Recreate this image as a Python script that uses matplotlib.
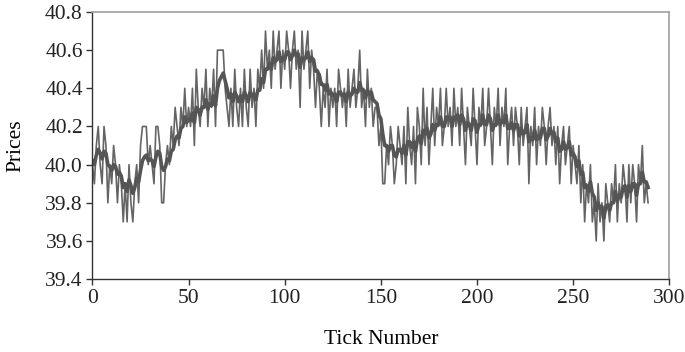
import numpy as np
import matplotlib
matplotlib.use("Agg")
import matplotlib.pyplot as plt

# =========================
# DATA
# =========================

raw_prices = [
    40.0, 39.9, 40.1, 40.2, 40.0, 39.9, 40.2, 40.1, 39.8, 40.0,
    39.9, 40.1, 40.0, 39.8, 40.0, 39.9, 39.7, 39.9, 39.7, 40.0,
    39.8, 39.7, 39.9, 40.0, 39.8, 40.1, 40.2, 40.2, 40.2, 40.0,
    40.1, 40.0, 39.9, 40.2, 40.2, 40.1, 39.8, 39.8, 40.0, 40.1,
    40.0, 40.2, 40.1, 40.3, 40.2, 40.1, 40.3, 40.2, 40.4, 40.2,
    40.3, 40.2, 40.4, 40.1, 40.5, 40.3, 40.2, 40.4, 40.3, 40.5,
    40.2, 40.4, 40.3, 40.5, 40.2, 40.6, 40.6, 40.6, 40.6, 40.4,
    40.3, 40.2, 40.4, 40.2, 40.5, 40.3, 40.2, 40.4, 40.2, 40.5,
    40.3, 40.2, 40.5, 40.3, 40.4, 40.2, 40.5, 40.4, 40.6, 40.4,
    40.7, 40.5, 40.6, 40.4, 40.7, 40.5, 40.6, 40.7, 40.4, 40.6,
    40.5, 40.7, 40.6, 40.4, 40.6, 40.7, 40.5, 40.6, 40.3, 40.7,
    40.5, 40.6, 40.7, 40.4, 40.6, 40.5, 40.3, 40.5, 40.4, 40.2,
    40.4, 40.3, 40.5, 40.2, 40.4, 40.3, 40.4, 40.2, 40.5, 40.4,
    40.3, 40.4, 40.2, 40.5, 40.3, 40.4, 40.5, 40.3, 40.4, 40.6,
    40.3, 40.4, 40.2, 40.5, 40.3, 40.4, 40.2, 40.3, 40.3, 40.1,
    40.2, 39.9, 39.9, 40.1, 40.0, 40.2, 40.1, 39.9, 40.0, 40.2,
    40.1, 40.0, 40.2, 39.9, 40.3, 40.1, 40.0, 40.2, 39.9, 40.3,
    40.2, 40.0, 40.4, 40.1, 40.3, 40.0, 40.2, 40.4, 40.1, 40.3,
    40.2, 40.4, 40.1, 40.2, 40.4, 40.2, 40.3, 40.1, 40.4, 40.2,
    40.3, 40.1, 40.4, 40.2, 40.0, 40.3, 40.2, 40.1, 40.4, 40.2,
    40.0, 40.3, 40.2, 40.4, 40.1, 40.2, 40.4, 40.2, 40.0, 40.3,
    40.2, 40.4, 40.1, 40.3, 40.2, 40.4, 40.0, 40.2, 40.3, 40.1,
    40.3, 40.2, 40.0, 40.3, 40.1, 40.2, 40.3, 39.9, 40.2, 40.1,
    40.3, 40.0, 40.2, 40.1, 40.3, 40.2, 40.0, 40.2, 40.3, 40.1,
    40.2, 40.0, 40.2, 39.9, 40.1, 40.2, 40.0, 40.1, 40.2, 39.9,
    40.1, 40.0, 39.9, 40.1, 39.8, 40.0, 39.7, 39.9, 39.8, 40.0,
    39.7, 39.8, 39.6, 39.9, 39.7, 39.8, 39.6, 39.9, 39.8, 39.7,
    39.9, 39.8, 40.0, 39.7, 39.9, 39.8, 40.0, 39.9, 39.7, 40.0,
    39.8, 40.0, 39.9, 39.7, 40.0, 39.9, 40.1, 39.8, 39.9, 39.8,
]

smoothed_prices = [
    40.02, 40.00, 40.05, 40.08, 40.06, 40.03, 40.07, 40.06, 40.00, 39.99,
    39.97, 40.00, 39.99, 39.95, 39.96, 39.94, 39.88, 39.90, 39.86, 39.92,
    39.89, 39.85, 39.88, 39.93, 39.91, 39.97, 40.02, 40.04, 40.05, 40.02,
    40.03, 40.02, 39.99, 40.04, 40.07, 40.06, 39.99, 39.97, 39.99, 40.03,
    40.02, 40.07, 40.08, 40.13, 40.15, 40.14, 40.19, 40.20, 40.25, 40.22,
    40.24, 40.23, 40.27, 40.22, 40.30, 40.29, 40.26, 40.30, 40.30, 40.34,
    40.29, 40.32, 40.31, 40.36, 40.31, 40.40, 40.44, 40.46, 40.48, 40.44,
    40.40, 40.35, 40.37, 40.33, 40.38, 40.36, 40.33, 40.36, 40.33, 40.38,
    40.36, 40.33, 40.38, 40.36, 40.37, 40.34, 40.39, 40.39, 40.45, 40.43,
    40.50, 40.50, 40.53, 40.50, 40.56, 40.54, 40.55, 40.59, 40.54, 40.56,
    40.55, 40.59, 40.59, 40.55, 40.57, 40.60, 40.57, 40.58, 40.51, 40.56,
    40.55, 40.56, 40.59, 40.54, 40.56, 40.55, 40.49, 40.49, 40.47, 40.42,
    40.42, 40.39, 40.42, 40.37, 40.38, 40.36, 40.37, 40.33, 40.38, 40.38,
    40.36, 40.37, 40.33, 40.38, 40.36, 40.37, 40.40, 40.38, 40.38, 40.43,
    40.39, 40.39, 40.35, 40.39, 40.37, 40.38, 40.34, 40.33, 40.32, 40.26,
    40.24, 40.16, 40.10, 40.10, 40.07, 40.10, 40.10, 40.05, 40.04, 40.08,
    40.08, 40.06, 40.10, 40.05, 40.12, 40.12, 40.09, 40.12, 40.07, 40.13,
    40.15, 40.11, 40.18, 40.16, 40.19, 40.14, 40.16, 40.21, 40.18, 40.21,
    40.21, 40.25, 40.20, 40.20, 40.25, 40.24, 40.25, 40.20, 40.25, 40.24,
    40.26, 40.21, 40.26, 40.24, 40.18, 40.22, 40.21, 40.18, 40.24, 40.23,
    40.17, 40.21, 40.21, 40.26, 40.21, 40.21, 40.26, 40.24, 40.18, 40.21,
    40.21, 40.26, 40.21, 40.23, 40.22, 40.26, 40.19, 40.19, 40.22, 40.18,
    40.21, 40.21, 40.15, 40.19, 40.16, 40.17, 40.21, 40.12, 40.14, 40.13,
    40.18, 40.13, 40.15, 40.14, 40.19, 40.19, 40.13, 40.15, 40.19, 40.16,
    40.17, 40.12, 40.14, 40.07, 40.08, 40.12, 40.08, 40.09, 40.12, 40.05,
    40.06, 40.04, 39.99, 40.02, 39.95, 39.96, 39.88, 39.89, 39.86, 39.91,
    39.85, 39.83, 39.76, 39.80, 39.77, 39.78, 39.72, 39.78, 39.79, 39.76,
    39.80, 39.80, 39.86, 39.81, 39.84, 39.83, 39.88, 39.89, 39.83, 39.89,
    39.86, 39.90, 39.90, 39.84, 39.90, 39.90, 39.96, 39.91, 39.91, 39.88,
]

x_ticks = [0, 50, 100, 150, 200, 250, 300]
y_ticks = [39.4, 39.6, 39.8, 40.0, 40.2, 40.4, 40.6, 40.8]

ticks = np.arange(len(raw_prices))

# =========================
# PLOT
# =========================

plt.rcParams["font.family"] = ["Liberation Serif", "DejaVu Serif"]
plt.rcParams["font.size"] = 15.5

fig = plt.figure(figsize=(6.85, 3.52), dpi=100)
ax = fig.add_axes([0.135, 0.207, 0.842, 0.759])

ax.plot(ticks, raw_prices, color="#646464", linewidth=1.2)
ax.plot(ticks, smoothed_prices, color="#555555", linewidth=2.6)

ax.set_xlim(0, 300)
ax.set_ylim(39.4, 40.8)
ax.set_xticks(x_ticks)
ax.set_yticks(y_ticks)
ax.set_yticklabels([f"{v:.1f}" for v in y_ticks])

ax.set_xlabel("Tick Number", labelpad=16)
ax.set_ylabel("Prices", labelpad=14)

for side in ["left", "bottom"]:
    ax.spines[side].set_color("#333333")
    ax.spines[side].set_linewidth(1.0)
for side in ["top", "right"]:
    ax.spines[side].set_color("#a0a0a0")
    ax.spines[side].set_linewidth(1.2)

ax.tick_params(direction="out", length=4, width=1, color="#333333",
               labelcolor="#222222", pad=3)

fig.savefig("out.png", dpi=100)
